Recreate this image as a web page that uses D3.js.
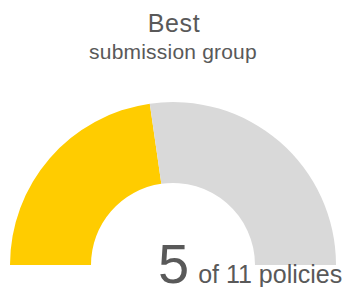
<!DOCTYPE html>
<html>
<head>
<meta charset="utf-8">
<script src="https://cdn.jsdelivr.net/npm/d3@7"></script>
<style>
  body { margin: 0; background: #fff; }
  text { font-family: "Liberation Sans", Arial, sans-serif; fill: #595959; }
</style>
</head>
<body>
<svg id="gauge_svg" width="345" height="287"></svg>
<script>
const title = "Best";
const subtitle = "submission group";
const value = 5;
const total = 11;
const unitLabel = "policies";
const segColors = ["#ffcc00", "#d9d9d9"];

const svg = d3.select("#gauge_svg");
const cx = 173, cy = 265;
const outerR = 163, innerR = 82;

const angle = d3.scaleLinear()
  .domain([0, total])
  .range([-Math.PI / 2, Math.PI / 2]);

const segments = [
  { start: 0, end: value },
  { start: value, end: total }
];

const arc = d3.arc()
  .innerRadius(innerR)
  .outerRadius(outerR)
  .startAngle(d => angle(d.start))
  .endAngle(d => angle(d.end));

const g = svg.append("g").attr("transform", `translate(${cx},${cy})`);

g.selectAll("path")
  .data(segments)
  .enter()
  .append("path")
  .attr("d", arc)
  .attr("fill", (d, i) => segColors[i]);

// titles
svg.append("text")
  .attr("x", cx + 1)
  .attr("y", 32)
  .attr("text-anchor", "middle")
  .attr("font-size", 25)
  .attr("letter-spacing", 0.6)
  .text(title);

svg.append("text")
  .attr("x", cx)
  .attr("y", 59)
  .attr("text-anchor", "middle")
  .attr("font-size", 21)
  .attr("letter-spacing", 0.2)
  .text(subtitle);

// value label
const label = svg.append("text")
  .attr("x", 158)
  .attr("y", 283);
label.append("tspan")
  .attr("font-size", 56)
  .text(value);
label.append("tspan")
  .attr("font-size", 25)
  .attr("dx", 9)
  .text(`of ${total} ${unitLabel}`);
</script>
</body>
</html>
